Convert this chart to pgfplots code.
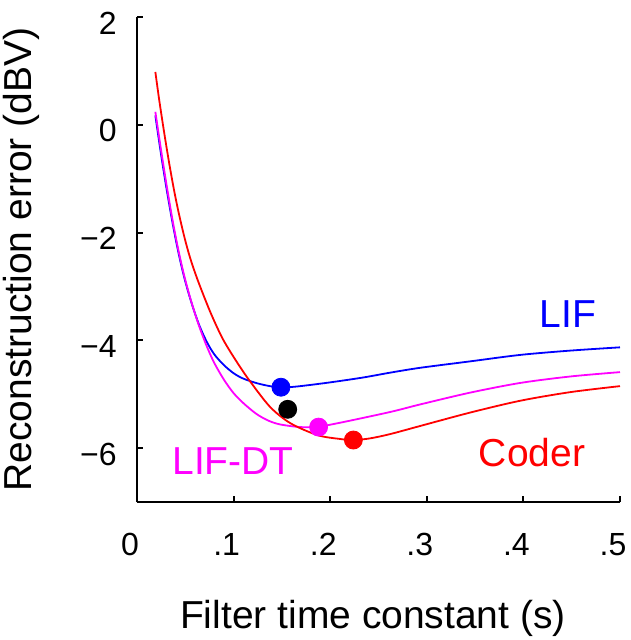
\documentclass[border=0pt]{standalone}
\usepackage{pgfplots}
\pgfplotsset{compat=1.18}
\usepackage{fontspec}
\setmainfont{Liberation Sans}
\definecolor{cblue}{RGB}{0,0,255}
\definecolor{cmag}{RGB}{255,0,255}
\definecolor{cred}{RGB}{255,0,0}
\begin{document}
\begin{tikzpicture}
\useasboundingbox (-68.5pt,-69pt) rectangle (246.5pt,251pt);
\begin{axis}[
  anchor=south west, at={(0pt,0pt)},
  scale only axis, width=241.5pt, height=242.5pt,
  xmin=0, xmax=0.5, ymin=-7, ymax=2,
  axis lines=left,
  axis line style={-, line width=1pt, black},
  tick style={line width=1pt, black},
  major tick length=3pt, tick align=inside,
  xtick={0,0.1,0.2,0.3,0.4,0.5},
  xticklabels={0,.1,.2,.3,.4,.5},
  ytick={-6,-4,-2,0,2},
  yticklabels={−6,−4,−2,0,2},
  xticklabel style={font=\fontsize{16}{19}\selectfont, anchor=base, inner sep=0pt, yshift=-26.5pt, xshift=-3.5pt},
  yticklabel style={font=\fontsize{16}{19}\selectfont, anchor=east, inner sep=0pt, xshift=-10pt, yshift=-3pt},
  xlabel={Filter time constant (s)},
  ylabel={Reconstruction error (dBV)},
  xlabel style={font=\fontsize{19.5}{23}\selectfont, at={(axis description cs:0.4886,0)}, anchor=base, yshift=-63pt, inner sep=0pt},
  ylabel style={font=\fontsize{19.5}{23}\selectfont, at={(axis description cs:-0.2174,0.5)}, anchor=base, inner sep=0pt},
  clip=false,
]
% LIF (blue)
\addplot[cblue, line width=0.9pt, smooth, tension=0.5] coordinates {
(0.019,0.17) (0.025,-0.56) (0.031,-1.23) (0.037,-1.84) (0.043,-2.38)
(0.049,-2.84) (0.056,-3.28) (0.064,-3.70) (0.072,-4.02) (0.080,-4.26)
(0.090,-4.46) (0.100,-4.61) (0.110,-4.71) (0.125,-4.80)
(0.141,-4.86) (0.155,-4.87) (0.169,-4.85) (0.200,-4.78) (0.234,-4.69)
(0.262,-4.60) (0.293,-4.51) (0.345,-4.39) (0.397,-4.27) (0.449,-4.19)
(0.500,-4.13)};
% LIF-DT (magenta)
\addplot[cmag, line width=0.9pt, smooth, tension=0.5] coordinates {
(0.019,0.24) (0.025,-0.48) (0.031,-1.16) (0.037,-1.79) (0.043,-2.34)
(0.049,-2.81) (0.056,-3.27) (0.064,-3.72) (0.072,-4.10) (0.080,-4.42)
(0.090,-4.73) (0.100,-4.98) (0.111,-5.18) (0.124,-5.37) (0.136,-5.49)
(0.148,-5.56) (0.169,-5.61) (0.188,-5.60) (0.210,-5.53)
(0.262,-5.33) (0.293,-5.19) (0.345,-4.97) (0.397,-4.79) (0.449,-4.67)
(0.500,-4.59)};
% Coder (red)
\addplot[cred, line width=0.9pt, smooth, tension=0.5] coordinates {
(0.019,0.98) (0.023,0.46) (0.028,-0.13) (0.033,-0.68) (0.038,-1.18)
(0.043,-1.62) (0.049,-2.08) (0.055,-2.47) (0.063,-2.89) (0.076,-3.48)
(0.089,-3.98) (0.104,-4.42) (0.117,-4.76) (0.138,-5.24) (0.159,-5.54)
(0.187,-5.76) (0.210,-5.83) (0.224,-5.85) (0.241,-5.82) (0.262,-5.74)
(0.293,-5.59) (0.345,-5.34) (0.397,-5.12) (0.449,-4.96) (0.500,-4.85)};
% minima
\addplot[only marks, mark=*, mark size=4.5pt, cblue, mark options={draw=cblue, fill=cblue}] coordinates {(0.149,-4.87)};
\addplot[only marks, mark=*, mark size=4.5pt, black, mark options={draw=black, fill=black}] coordinates {(0.156,-5.28)};
\addplot[only marks, mark=*, mark size=4.5pt, cmag, mark options={draw=cmag, fill=cmag}] coordinates {(0.188,-5.61)};
\addplot[only marks, mark=*, mark size=4.5pt, cred, mark options={draw=cred, fill=cred}] coordinates {(0.224,-5.85)};
\node[text=cblue, font=\fontsize{19.5}{23}\selectfont, anchor=center] at (axis cs:0.446,-3.52) {LIF};
\node[text=cred, font=\fontsize{19.5}{23}\selectfont, anchor=center] at (axis cs:0.409,-6.09) {Coder};
\node[text=cmag, font=\fontsize{19.5}{23}\selectfont, anchor=center] at (axis cs:0.0995,-6.24) {LIF-DT};
\end{axis}
\end{tikzpicture}
\end{document}
